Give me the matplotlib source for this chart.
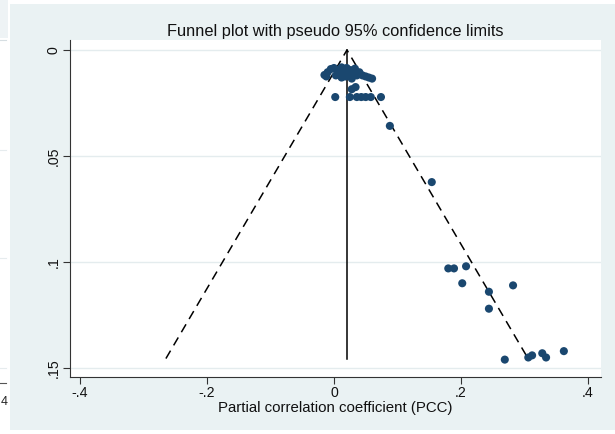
"""
Funnel plot (Stata style): standard error vs partial correlation coefficient,
with pseudo 95% confidence limits around the pooled estimate.
"""
import numpy as np
import matplotlib.pyplot as plt
import matplotlib.patches as patches

plt.rcParams["font.family"] = ["Liberation Sans", "DejaVu Sans"]

# pooled estimate and largest standard error (funnel apex / base)
pooled = 0.0205
se_max = 0.1455

# study estimates (PCC) and standard errors
pcc = [-0.015, -0.010, -0.005, 0.000, 0.005, 0.008, 0.012, 0.016, 0.020, 0.022,
       0.026, 0.030, 0.033, 0.036, 0.040, 0.045, 0.050, 0.055, 0.060, 0.003,
       0.012, 0.028, -0.012, 0.018,
       0.028, 0.034, 0.002, 0.025, 0.036, 0.043, 0.050, 0.058, 0.074,
       0.088, 0.154, 0.180, 0.189, 0.208, 0.202, 0.244, 0.244, 0.282,
       0.269, 0.306, 0.312, 0.328, 0.334, 0.362]
se = [0.0118, 0.0105, 0.0090, 0.0085, 0.0095, 0.0110, 0.0082, 0.0105, 0.0085, 0.0120,
      0.0095, 0.0110, 0.0088, 0.0120, 0.0105, 0.0120, 0.0125, 0.0130, 0.0135, 0.0120,
      0.0130, 0.0135, 0.0125, 0.0125,
      0.0185, 0.0175, 0.0222, 0.0222, 0.0222, 0.0222, 0.0222, 0.0222, 0.0222,
      0.0358, 0.0623, 0.1030, 0.1030, 0.1020, 0.1100, 0.1140, 0.1220, 0.1110,
      0.1460, 0.1450, 0.1440, 0.1430, 0.1450, 0.1420]

xticks = [-0.4, -0.2, 0, 0.2, 0.4]
xtick_labels = ["-.4", "-.2", "0", ".2", ".4"]
yticks = [0, 0.05, 0.1, 0.15]
ytick_labels = ["0", ".05", ".1", ".15"]

W, H = 615, 434
fig = plt.figure(figsize=(W / 100, H / 100), dpi=100)
fig.patch.set_facecolor("white")

# Stata graph region
bg = "#eaf2f3"
fig.add_artist(patches.Rectangle((10 / W, 4 / H), 1 - 10 / W, (430 - 4) / H,
                                 transform=fig.transFigure, facecolor=bg,
                                 edgecolor="none", zorder=0))
# fragments of a neighbouring panel on the left edge
fig.add_artist(patches.Rectangle((0, 1 - 38 / H), 8 / W, 38 / H,
                                 transform=fig.transFigure, facecolor="#eef3f5",
                                 edgecolor="none", zorder=0))
for yp, c in [(40, "#d6dee2"), (150, "#e6ecee"), (258, "#e6ecee"), (368, "#e6ecee"), (383, "#555555")]:
    fig.add_artist(plt.Line2D([0, 6 / W], [1 - yp / H, 1 - yp / H], transform=fig.transFigure,
                              color=c, lw=0.8))
fig.text(1 / W, 1 - 402 / H, "4", fontsize=9, color="#222222", ha="left", va="center")

# axes position (pixels): left 70, right 601, top 40, bottom 377
ax = fig.add_axes([70 / W, 1 - 377 / H, (601 - 70) / W, (377 - 40) / H])
ax.set_facecolor("white")

ax.set_xlim(-0.4157, 0.4205)
ax.set_ylim(0.1542, -0.0047)

ax.set_yticks(yticks)
ax.set_yticklabels(ytick_labels, rotation=90, va="center")
ax.set_xticks(xticks)
ax.set_xticklabels(xtick_labels)
ax.tick_params(axis="both", labelsize=10.2, color="#333333", labelcolor="#111111",
               length=5, width=0.8, pad=1.5)
ax.grid(axis="y", color="#e4ecee", lw=1.0)
ax.set_axisbelow(True)

for side in ["top", "right"]:
    ax.spines[side].set_visible(False)
for side in ["left", "bottom"]:
    ax.spines[side].set_color("#333333")
    ax.spines[side].set_linewidth(0.8)

# pseudo 95% limits
z = 1.96
ax.plot([pooled - z * se_max, pooled, pooled + z * se_max], [se_max, 0, se_max],
        color="black", lw=1.1, ls=(0, (6, 4)), zorder=2)
ax.plot([pooled, pooled], [0, se_max], color="black", lw=1.1, zorder=2)

ax.scatter(pcc, se, s=34, color="#1a476f", edgecolors="none", zorder=3)

ax.set_title("Funnel plot with pseudo 95% confidence limits", fontsize=11.8,
             color="#111111", pad=3)
ax.set_xlabel("Partial correlation coefficient (PCC)", fontsize=10.8,
              color="#111111", labelpad=1)

plt.savefig("out.png", dpi=100, facecolor=fig.get_facecolor())
